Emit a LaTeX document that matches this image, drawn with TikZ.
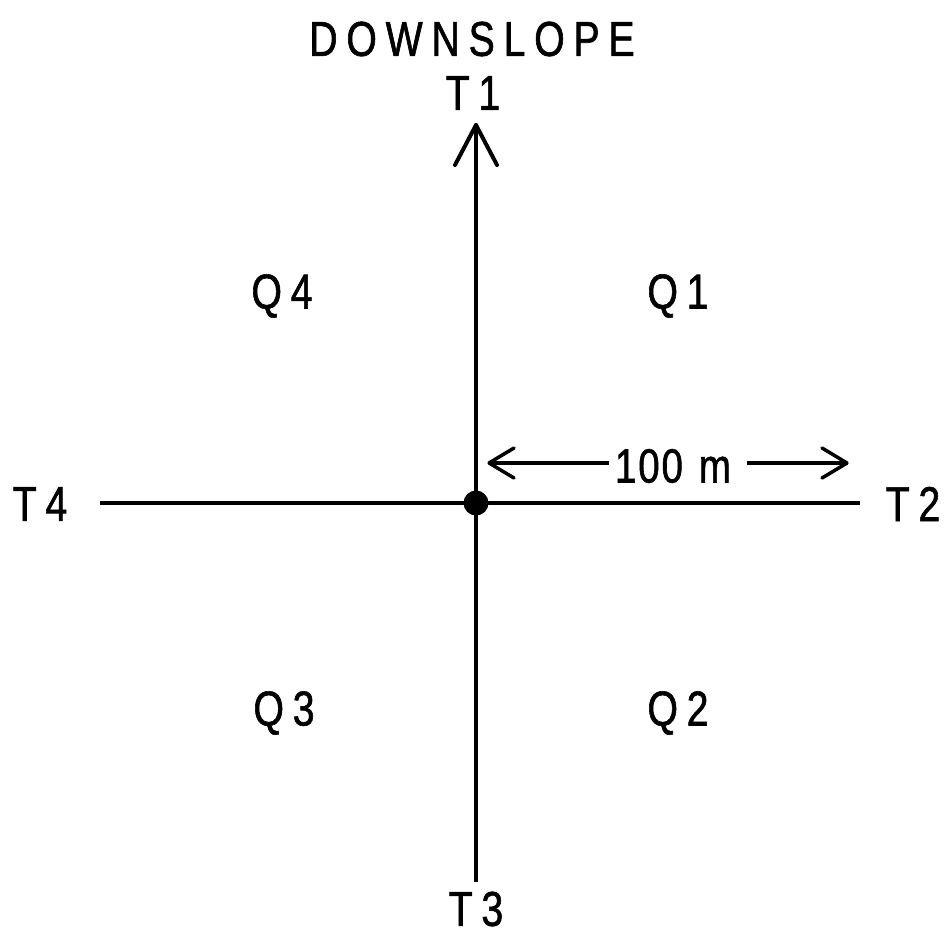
\documentclass[tikz,border=0pt]{standalone}
\usepackage{fontspec}
\setmainfont{Liberation Sans}[FakeStretch=0.8,LetterSpace=18,FakeBold=1.2]
\usetikzlibrary{arrows.meta}
\begin{document}
\begin{tikzpicture}[x=1pt,y=-1pt,
  lbl/.style={font=\fontsize{49}{52}\selectfont, inner sep=0pt, anchor=center},
  axis/.style={line width=4pt}]
\useasboundingbox (0,0) rectangle (949,937);
\node[lbl] (down) at (472,39) {DOWNSLOPE};
\node[lbl] (t1) at (473,93) {T1};
\node[lbl] (t2) at (913,504) {T2};
\node[lbl] (t3) at (476,909) {T3};
\node[lbl] (t4) at (40,504) {T4};
\node[lbl] (q1) at (678,296) {Q1};
\node[lbl] (q2) at (678,713) {Q2};
\node[lbl] (q3) at (284,713) {Q3};
\node[lbl] (q4) at (282,296) {Q4};
\coordinate (c) at (476,503);
\coordinate (top) at (476,125);
\coordinate (bot) at (476,882);
\coordinate (left) at (100,503);
\coordinate (right) at (860,503);
\draw[axis] (left) -- (right);
\draw[axis] (bot) -- (top);
\draw[axis, line cap=round] (top) -- ++(-21,40);
\draw[axis, line cap=round] (top) -- ++(21,40);
\fill (c) circle (12.5);
\node[lbl, font=\fontsize{48}{50}\selectfont\addfontfeatures{LetterSpace=4}] (dist) at (673,466) {100\,\,m};
\coordinate (al) at (489,463);
\coordinate (ar) at (847,463);
\draw[line width=3.5pt, shorten >=6pt] (al) -- (al -| dist.west);
\draw[line width=3.5pt, shorten <=16pt] (ar -| dist.east) -- (ar);
\draw[line width=3.5pt, line cap=round] (al) -- ++(25,-15) (al) -- ++(25,15);
\draw[line width=3.5pt, line cap=round] (ar) -- ++(-25,-15) (ar) -- ++(-25,15);
\end{tikzpicture}
\end{document}
